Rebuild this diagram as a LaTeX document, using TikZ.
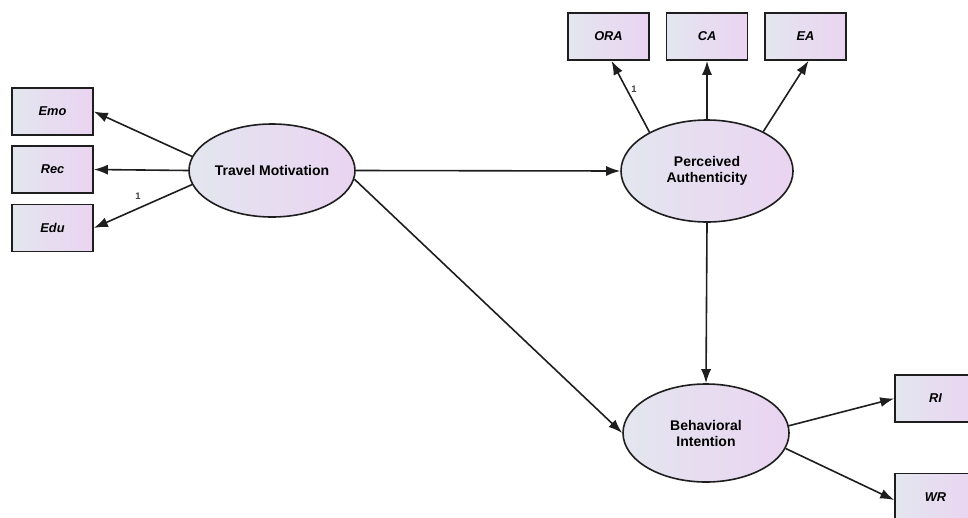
\documentclass[tikz,border=0pt]{standalone}
\usepackage{fontspec}
\setmainfont{Liberation Sans}
\usetikzlibrary{arrows.meta,shapes.geometric}
\definecolor{fillL}{HTML}{E3E6EF}
\definecolor{fillR}{HTML}{EAD4F1}
\definecolor{lineC}{HTML}{1E1E1E}
\tikzset{
  obsbox/.style={draw=lineC, line width=1.6pt, rectangle, minimum width=81pt, minimum height=47pt, inner sep=0pt,
     shading=axis, shading angle=60, left color=fillL, right color=fillR, font=\fontsize{12.8}{14}\selectfont\bfseries\itshape},
  latent/.style={draw=lineC, line width=1.6pt, ellipse, inner sep=0pt, align=center,
     left color=fillL, right color=fillR, font=\fontsize{14}{16}\selectfont\bfseries},
  path/.style={draw=lineC, line width=1.6pt, -{Latex[length=14pt,width=10pt]}},
  wlabel/.style={font=\fontsize{9.5}{10}\selectfont\bfseries, text=black!75, inner sep=0pt}
}
\begin{document}
\begin{tikzpicture}[x=1pt,y=-1pt]
\useasboundingbox (0,0) rectangle (968,517);
\clip (0,0) rectangle (968,517);
\fill[white] (0,0) rectangle (968,517);
% indicators of Travel Motivation
\node[obsbox] (emo) at (52.5,111.5) {Emo};
\node[obsbox] (rec) at (52.5,169.5) {Rec};
\node[obsbox] (edu) at (52.5,228) {Edu};
% indicators of Perceived Authenticity
\node[obsbox] (ora) at (608.5,36.5) {ORA};
\node[obsbox] (ca) at (707,36.5) {CA};
\node[obsbox] (ea) at (805.5,36.5) {EA};
% indicators of Behavioral Intention
\node[obsbox] (ri) at (935.5,398.5) {RI};
\node[obsbox] (wr) at (935.5,497) {WR};
% latent variables
\node[latent, minimum width=166pt, minimum height=93pt] (tm) at (272,170.5) {Travel Motivation};
\node[latent, minimum width=172pt, minimum height=102pt] (pa) at (707,171) {Perceived\\Authenticity};
\node[latent, minimum width=166pt, minimum height=98pt] (bi) at (706,433) {Behavioral\\Intention};
% paths
\draw[path] (tm.170) -- (emo.east);
\draw[path] (tm.180) -- (rec.east);
\draw[path] (tm.190) -- (edu.east);
\draw[path] (tm.east) -- (pa.west);
\draw[path] (tm.354) -- (bi.west);
\draw[path] (pa.south) -- (bi.north);
\draw[path] (pa.146) -- ([xshift=3pt]ora.south);
\draw[path] (pa.north) -- (ca.south);
\draw[path] (pa.35) -- ([xshift=3pt]ea.south);
\draw[path] (bi.5) -- (ri.west);
\draw[path] (bi.349) -- ([yshift=-3pt]wr.west);
% fixed loadings
\node[wlabel] (l1) at (138,196) {1};
\node[wlabel] (l2) at (634,89) {1};
\end{tikzpicture}
\end{document}
